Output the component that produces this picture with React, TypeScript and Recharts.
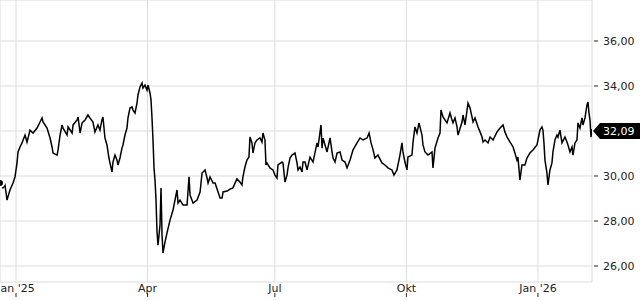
import { LineChart, Line, XAxis, YAxis, CartesianGrid, ReferenceLine } from 'recharts';

// days since 1 Jan 2025
const dayOffsets = [
  -11.2, -9.1, -7.7, -6.3, -4.2, -2.1, -0.7, 0.7, 1.4, 2.8, 4.2, 6.3, 7.7, 9.8, 11.9, 14.7, 16.8, 18.2, 18.9, 21.7,
  23.8, 25.2, 25.9, 28.7, 29.4, 30.8, 32.2, 32.9, 35.7, 36.4, 39.2, 39.9, 42.7, 43.4, 44.8, 46.2, 48.3, 50.3, 51.7, 53.8,
  55.2, 57.3, 58.7, 60.1, 60.8, 62.2, 63.6, 65.0, 65.7, 67.1, 67.8, 69.2, 70.6, 71.3, 72.7, 74.1, 74.8, 76.2, 77.6, 78.3,
  79.7, 81.1, 81.8, 83.2, 84.6, 85.3, 86.7, 88.1, 88.8, 90.2, 91.6, 92.3, 93.7, 94.4, 95.1, 95.8, 96.5, 97.2, 97.9, 98.6,
  99.3, 100.7, 101.4, 102.1, 102.8, 104.2, 105.6, 107.7, 109.8, 112.6, 113.3, 114.7, 116.8, 119.6, 121.0, 121.7, 123.8, 126.6, 128.7, 130.1,
  132.2, 133.6, 134.3, 135.7, 137.8, 139.2, 141.3, 142.7, 144.1, 144.8, 147.6, 149.7, 151.7, 154.5, 156.6, 158.0, 158.7, 160.1, 161.5, 162.9,
  163.6, 165.0, 165.7, 167.1, 168.5, 170.6, 172.0, 172.7, 174.1, 174.8, 175.5, 177.6, 179.7, 181.1, 182.5, 183.2, 186.0, 186.7, 188.1, 189.5,
  190.2, 191.6, 193.0, 195.1, 196.5, 197.2, 198.6, 200.0, 200.7, 202.1, 203.5, 205.6, 207.7, 210.5, 211.2, 213.3, 214.0, 214.7, 216.1, 217.5,
  219.6, 221.0, 221.7, 223.1, 224.5, 226.6, 228.0, 230.1, 231.5, 233.6, 235.7, 238.5, 240.6, 242.7, 245.5, 246.9, 248.3, 249.7, 251.0, 253.1,
  255.9, 258.0, 260.1, 262.9, 264.3, 266.4, 268.5, 269.9, 270.6, 272.0, 273.4, 274.1, 276.9, 277.6, 279.0, 280.4, 281.8, 283.9, 284.6, 286.0,
  288.1, 290.9, 291.6, 293.0, 295.1, 296.5, 297.2, 298.6, 301.4, 303.5, 304.9, 305.6, 307.0, 308.4, 309.1, 311.9, 312.6, 314.0, 316.1, 317.5,
  318.9, 319.6, 321.0, 323.1, 324.5, 325.9, 326.6, 328.0, 330.1, 331.5, 333.6, 336.4, 338.5, 340.6, 341.9, 343.4, 345.5, 347.6, 348.9, 350.3,
  351.0, 352.4, 353.8, 355.9, 357.3, 359.4, 361.5, 364.3, 365.0, 366.4, 367.8, 368.5, 369.2, 369.9, 371.3, 372.0, 373.4, 374.8, 375.5, 376.9,
  378.3, 379.0, 380.4, 381.8, 383.9, 385.3, 386.0, 387.4, 388.8, 389.5, 390.9, 392.3, 393.0, 394.4, 395.8, 396.5, 397.9, 399.3, 400.0, 400.7,
  401.4, 402.1, 402.8,
];

const prices = [
  29.69, 29.47, 29.6, 28.93, 29.38, 29.69, 29.96, 30.58, 31.07, 31.29, 31.47, 31.82, 31.51, 32.04, 31.91, 32.13, 32.4, 32.58, 32.4, 32.13,
  31.69, 31.29, 31.02, 30.93, 31.16, 31.82, 32.27, 32.13, 31.82, 32.18, 31.91, 32.27, 32.49, 32.62, 31.91, 32.36, 32.49, 32.71, 32.58, 32.4,
  31.96, 32.27, 32.04, 32.49, 32.62, 31.69, 31.38, 30.8, 30.58, 30.18, 30.62, 30.93, 30.71, 30.49, 30.8, 31.24, 31.38, 31.82, 32.13, 32.58,
  33.02, 33.07, 32.93, 32.8, 33.24, 33.6, 33.96, 34.13, 33.91, 34.04, 33.82, 34.04, 33.69, 33.38, 32.58, 31.6, 30.36, 29.82, 28.93, 27.51,
  26.93, 27.82, 29.47, 27.38, 26.58, 27.07, 27.47, 28.04, 28.49, 29.38, 28.8, 28.93, 28.71, 28.71, 29.96, 29.16, 28.8, 28.93, 29.29, 30.13,
  30.27, 29.91, 29.69, 29.96, 29.69, 29.69, 29.29, 29.02, 29.02, 29.29, 29.33, 29.42, 29.47, 29.87, 29.73, 29.6, 29.96, 30.4, 30.71, 30.84,
  31.73, 31.47, 31.02, 31.47, 31.6, 31.69, 31.51, 31.91, 31.6, 30.49, 30.58, 30.36, 30.27, 30.04, 29.91, 30.49, 30.62, 30.58, 29.73, 30.04,
  30.36, 30.8, 30.93, 31.02, 30.58, 30.27, 30.4, 30.18, 30.62, 30.62, 30.27, 30.84, 30.62, 31.47, 31.29, 32.27, 31.24, 31.69, 31.38, 31.07,
  31.69, 31.07, 30.8, 30.62, 31.02, 31.07, 30.71, 30.62, 30.36, 30.71, 31.16, 31.47, 31.69, 31.6, 31.69, 31.91, 31.47, 31.16, 30.8, 30.93,
  30.58, 30.49, 30.36, 30.27, 30.04, 30.27, 30.93, 31.47, 31.07, 30.62, 30.27, 30.84, 30.93, 31.47, 32.18, 31.91, 32.36, 31.82, 31.38, 31.07,
  30.93, 31.07, 30.36, 31.24, 31.69, 31.91, 32.93, 32.62, 32.36, 32.8, 32.49, 32.36, 32.58, 32.18, 31.82, 32.4, 32.71, 32.27, 33.24, 33.02,
  32.62, 32.4, 32.58, 32.18, 31.96, 31.73, 31.51, 31.6, 31.47, 31.73, 31.6, 31.96, 32.13, 32.27, 31.96, 31.73, 31.51, 31.29, 31.02, 30.71,
  30.84, 29.82, 30.49, 30.49, 30.8, 31.02, 31.16, 31.38, 31.6, 32.04, 32.18, 32.04, 31.47, 30.71, 30.13, 29.6, 30.27, 30.58, 31.07, 31.6,
  31.82, 31.73, 32.04, 31.47, 31.73, 31.51, 31.38, 31.07, 31.29, 30.93, 31.47, 31.6, 32.36, 32.13, 32.58, 32.27, 32.58, 33.16, 33.29, 32.8,
  32.49, 31.73, 32.09,
];

const monthTicks = [0, 92, 181, 273, 365];
const monthLabels = ["Jan '25", 'Apr', 'Jul', 'Okt', "Jan '26"];
const priceTicks = [26, 28, 30, 32, 34, 36];
const lastPrice = 32.09;

const data = dayOffsets.map((d, i) => ({ day: d, price: prices[i] }));

const fmt = (v: number) => v.toFixed(2).replace('.', ',');
const FONT = '"DejaVu Sans", sans-serif';

const MonthTick = (props: any) => {
  const { x, y, payload } = props;
  const idx = monthTicks.indexOf(payload.value);
  return (
    <g>
      <text x={x} y={y + 9.5} textAnchor="middle" fontSize={11} fontFamily={FONT} fill="#222">
        {monthLabels[idx]}
      </text>
      <line x1={x} x2={x} y1={y + 11} y2={y + 15} stroke="#222" strokeWidth={1} />
    </g>
  );
};

const PriceTick = (props: any) => {
  const { x, y, payload } = props;
  // the last-price tag sits on top of this label
  if (Math.abs(payload.value - lastPrice) < 0.5) return <g />;
  return (
    <g>
      <line x1={x + 2} x2={x + 6} y1={y} y2={y} stroke="#222" strokeWidth={1} />
      <text x={x + 11} y={y} dy={4} textAnchor="start" fontSize={11} fontFamily={FONT} fill="#222">
        {fmt(payload.value)}
      </text>
    </g>
  );
};

const LastTag = (props: any) => {
  const vb = props.viewBox || {};
  const x = vb.x + vb.width;
  const y = vb.y + 2;
  const pts = `${x + 1},${y} ${x + 8},${y - 8} ${x + 48},${y - 8} ${x + 48},${y + 8} ${x + 8},${y + 8}`;
  return (
    <g>
      <polygon points={pts} fill="#000" />
      <text x={x + 11} y={y} dy={4} fontSize={11} fontFamily={FONT} fill="#fff">
        {fmt(lastPrice)}
      </text>
    </g>
  );
};

export default function App() {
  return (
    <div style={{ width: 640, height: 300 }}>
      <style>{'body{margin:0;}'}</style>
      <LineChart width={640} height={300} data={data} margin={{ top: 0, right: 0, bottom: 0, left: 0 }}>
        <CartesianGrid stroke="#dcdcdc" strokeWidth={1} />
        <XAxis
          dataKey="day"
          type="number"
          domain={[-11.2, 402.8]}
          allowDataOverflow
          ticks={monthTicks}
          interval={0}
          height={18}
          axisLine={false}
          tickLine={false}
          tickSize={0}
          tickMargin={0}
          tick={<MonthTick />}
        />
        <YAxis
          orientation="right"
          type="number"
          domain={[25.289, 37.822]}
          allowDataOverflow
          ticks={priceTicks}
          interval={0}
          width={48}
          axisLine={false}
          tickLine={false}
          tickSize={0}
          tickMargin={0}
          tick={<PriceTick />}
        />
        <Line
          type="linear"
          dataKey="price"
          stroke="#000"
          strokeWidth={1.5}
          dot={false}
          isAnimationActive={false}
        />
        <ReferenceLine y={lastPrice} stroke="none" label={<LastTag />} />
      </LineChart>
    </div>
  );
}
